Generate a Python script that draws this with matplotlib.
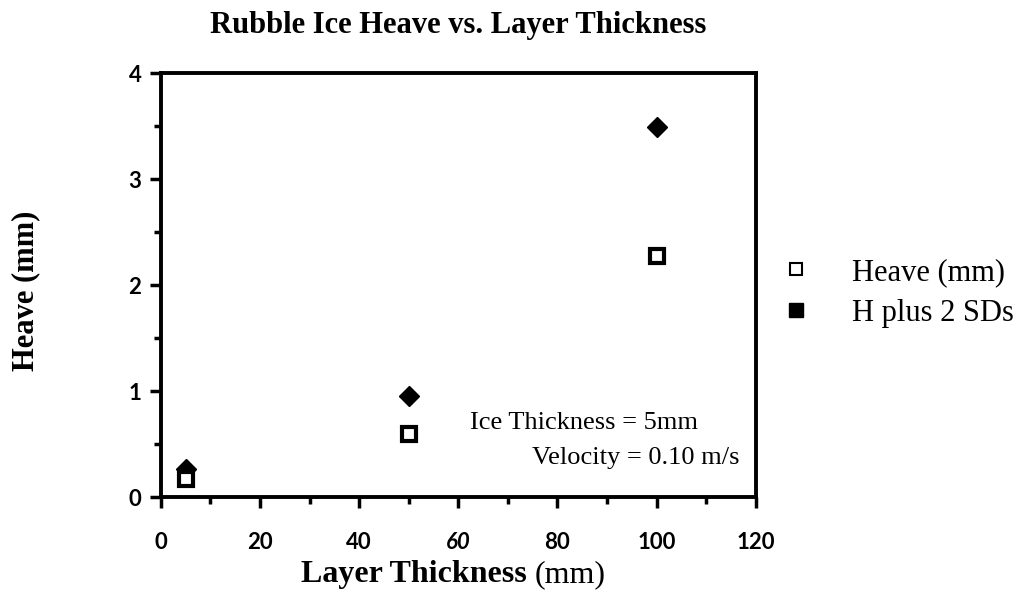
import matplotlib.pyplot as plt
from matplotlib.lines import Line2D

# layer thickness (mm) and measured heave (mm)
layer = [5, 50, 100]
heave = [0.17, 0.60, 2.27]
heave_2sd = [0.27, 0.95, 3.49]

xticks = [0, 20, 40, 60, 80, 100, 120]
yticks = [0, 1, 2, 3, 4]

serif = 'Liberation Serif'
sans = 'Lato'

fig = plt.figure(figsize=(10.31, 5.94), dpi=100)
ax = fig.add_axes([0.156, 0.163, 0.577, 0.714])

# diamonds first so the squares sit on top where they overlap
ax.plot(layer, heave_2sd, linestyle='none', marker='D', markersize=10,
        color='black', zorder=3)
ax.plot(layer, heave, linestyle='none', marker='s', markersize=9.5,
        markerfacecolor='white', markeredgecolor='black', markeredgewidth=3,
        zorder=4)

ax.set_xlim(0, 120)
ax.set_ylim(0, 4)
ax.set_xticks(xticks)
ax.set_yticks(yticks)
ax.set_xticks(range(10, 120, 20), minor=True)
ax.set_yticks([0.5, 1.5, 2.5, 3.5], minor=True)
ax.tick_params(which='both', direction='out', width=2.5, length=8)
ax.tick_params(which='minor', length=5)
ax.tick_params(axis='x', labelsize=16, pad=17)
ax.tick_params(axis='y', labelsize=16, pad=6)
for lab in ax.get_xticklabels() + ax.get_yticklabels():
    lab.set_family(sans)
    lab.set_fontweight('bold')
ax.get_xticklabels()[3].set_style('italic')
for s in ax.spines.values():
    s.set_linewidth(2.8)

ax.set_title('Rubble Ice Heave vs. Layer Thickness', family=serif,
             fontweight='bold', fontsize=22, pad=29)
fig.text(0.025, 0.51, 'Heave (mm)', family=serif, fontweight='bold',
         fontsize=22, rotation=90, ha='center', va='center')
fig.text(0.511, 0.020, 'Layer Thickness', family=serif, fontweight='bold',
         fontsize=23, ha='right', va='baseline')
fig.text(0.519, 0.020, '(mm)', family=serif, fontsize=23, ha='left',
         va='baseline')

ax.text(0.9025, 0.1745, 'Ice Thickness = 5mm', transform=ax.transAxes,
        family=serif, fontsize=19, ha='right', va='center')
ax.text(0.973, 0.092, 'Velocity = 0.10 m/s', transform=ax.transAxes,
        family=serif, fontsize=19, ha='right', va='center')

handles = [
    Line2D([], [], linestyle='none', marker='s', markersize=9,
           markerfacecolor='white', markeredgecolor='black', markeredgewidth=1.5),
    Line2D([], [], linestyle='none', marker='s', markersize=10, color='black'),
]
fig.legend(handles, ['Heave (mm)', 'H plus 2 SDs'], loc='center left',
           bbox_to_anchor=(0.7575, 0.507), frameon=False,
           prop={'family': serif, 'size': 22}, handletextpad=1.31,
           handlelength=1.0, labelspacing=0.4, borderpad=0,
           borderaxespad=0)

fig.savefig('out.png', dpi=100)
